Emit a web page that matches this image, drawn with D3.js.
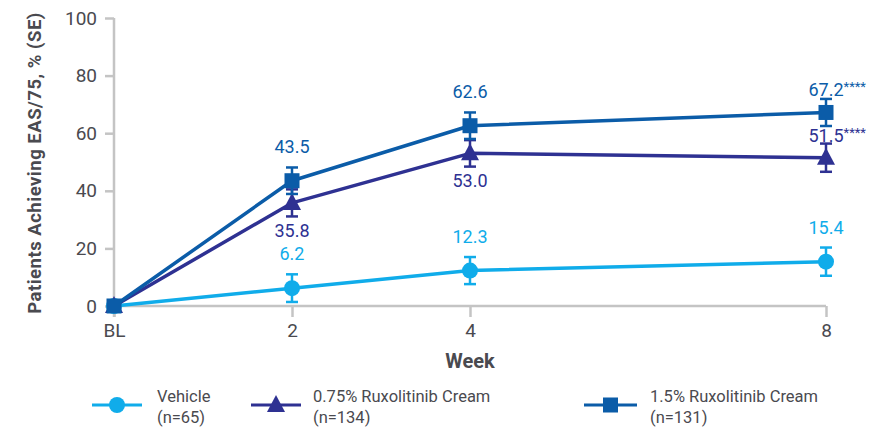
<!DOCTYPE html>
<html>
<head>
<meta charset="utf-8">
<script src="https://cdn.jsdelivr.net/npm/d3@7/dist/d3.min.js"></script>
<style>
  html, body { margin: 0; padding: 0; background: #fff; }
  svg { display: block; font-family: Roboto, "Noto Sans", sans-serif; }
</style>
</head>
<body>
<svg id="chart" width="896" height="428"></svg>
<script>
// Visits (weeks from baseline) and their axis labels
const weeks = [0, 2, 4, 8];
const weekLabels = ["BL", "2", "4", "8"];
const yTicks = [0, 20, 40, 60, 80, 100];

// Proportion achieving EASI-75 (%) and standard errors per arm
const vehicle = [0, 6.2, 12.3, 15.4];
const vehicleSE = [0, 4.8, 4.7, 4.9];
const rux075 = [0, 35.8, 53.0, 51.5];
const rux075SE = [0, 4.7, 4.6, 4.9];
const rux15 = [0, 43.5, 62.6, 67.2];
const rux15SE = [0, 4.6, 4.6, 4.7];

// Annotations: significance markers and label placement (above / below)
const rux075Stars = ["", "", "", "****"];
const rux15Stars = ["", "", "", "****"];
const vehiclePlace = ["", "above", "above", "above"];
const rux075Place = ["", "below", "below", "above"];
const rux15Place = ["", "above", "above", "above"];

const seriesNames = ["Vehicle", "0.75% Ruxolitinib Cream", "1.5% Ruxolitinib Cream"];
const seriesN = ["(n=65)", "(n=134)", "(n=131)"];

const series = [
  { name: seriesNames[0], n: seriesN[0], values: vehicle, se: vehicleSE, stars: ["", "", "", ""], place: vehiclePlace, color: "#10acea", symbol: "circle" },
  { name: seriesNames[1], n: seriesN[1], values: rux075, se: rux075SE, stars: rux075Stars, place: rux075Place, color: "#2e3192", symbol: "triangle" },
  { name: seriesNames[2], n: seriesN[2], values: rux15, se: rux15SE, stars: rux15Stars, place: rux15Place, color: "#0b5ca8", symbol: "square" }
];

const svg = d3.select("#chart");
const axisColor = "#c4c4c4";
const textColor = "#4a4a4f";

const x = d3.scaleLinear().domain([0, 8]).range([114, 826]);
const y = d3.scaleLinear().domain([0, 100]).range([306, 18]);

// Y axis
const yAxis = svg.append("g").attr("transform", `translate(${x(0)},0)`)
  .call(d3.axisLeft(y).tickValues(yTicks).tickSize(9).tickPadding(8));
yAxis.select(".domain").attr("stroke", axisColor).attr("stroke-width", 2.5)
  .attr("d", `M0,${y(100)}V${y(0) + 11}`);
yAxis.selectAll(".tick line").attr("stroke", axisColor).attr("stroke-width", 2.5);
yAxis.selectAll(".tick text").attr("fill", textColor).style("font-size", "19px").style("font-family", "Roboto");

// X axis
const xAxis = svg.append("g").attr("transform", `translate(0,${y(0)})`)
  .call(d3.axisBottom(x).tickValues(weeks).tickFormat((d, i) => weekLabels[i]).tickSize(11).tickPadding(7));
xAxis.select(".domain").attr("stroke", axisColor).attr("stroke-width", 2.5)
  .attr("d", `M${x(0)},0H${x(8)}`);
xAxis.selectAll(".tick line").attr("stroke", axisColor).attr("stroke-width", 2.5);
xAxis.selectAll(".tick text").attr("fill", textColor).style("font-size", "19px").style("font-family", "Roboto");

// Axis titles
svg.append("text")
  .attr("transform", `translate(41,${(y(0) + y(100)) / 2 + 1}) rotate(-90)`)
  .attr("text-anchor", "middle")
  .attr("fill", textColor)
  .style("font-size", "18.5px").style("font-weight", "bold").style("letter-spacing", "0.5px")
  .text("Patients Achieving EAS/75, % (SE)");

svg.append("text")
  .attr("x", (x(0) + x(8)) / 2).attr("y", 368)
  .attr("text-anchor", "middle")
  .attr("fill", textColor)
  .style("font-size", "20px").style("font-weight", "bold")
  .text("Week");

// Marker drawing helper
function drawMarker(g, symbol, cx, cy, color) {
  if (symbol === "circle") {
    g.append("circle").attr("cx", cx).attr("cy", cy).attr("r", 8).attr("fill", color);
  } else if (symbol === "square") {
    g.append("rect").attr("x", cx - 7.5).attr("y", cy - 7.5).attr("width", 15).attr("height", 15).attr("fill", color);
  } else {
    g.append("path").attr("d", `M${cx},${cy - 10}L${cx + 9},${cy + 7}L${cx - 9},${cy + 7}Z`).attr("fill", color);
  }
}

const line = d3.line().x((d, i) => x(weeks[i])).y(d => y(d));

series.forEach(s => {
  const g = svg.append("g");
  g.append("path").datum(s.values)
    .attr("d", line).attr("fill", "none")
    .attr("stroke", s.color).attr("stroke-width", 3.5).attr("stroke-linejoin", "round");

  s.values.forEach((v, i) => {
    const cx = x(weeks[i]);
    if (s.se[i] > 0) {
      const top = y(v + s.se[i]), bot = y(v - s.se[i]);
      g.append("line").attr("x1", cx).attr("x2", cx).attr("y1", top).attr("y2", bot)
        .attr("stroke", s.color).attr("stroke-width", 2.5);
      [top, bot].forEach(yy => g.append("line")
        .attr("x1", cx - 6).attr("x2", cx + 6).attr("y1", yy).attr("y2", yy)
        .attr("stroke", s.color).attr("stroke-width", 2.5));
    }
    drawMarker(g, s.symbol, cx, y(v), s.color);

    if (s.place[i]) {
      const offset = s.place[i] === "above" ? (s.stars[i] ? -16 : -28) : 34;
      const t = g.append("text")
        .attr("x", cx).attr("y", y(v) + offset)
        .attr("fill", s.color)
        .style("font-size", "18px");
      t.append("tspan").text(v.toFixed(1));
      if (s.stars[i]) {
        t.append("tspan").attr("dy", -5).style("font-size", "13px").text(s.stars[i]);
      }
      // centre the numeric part on the point
      const numW = t.select("tspan").node().getComputedTextLength();
      t.attr("x", cx - numW / 2);
    }
  });
});

// Legend
const legendItems = [
  { x0: 92, x1: 142, tx: 157 },
  { x0: 251, x1: 301, tx: 313 },
  { x0: 584, x1: 637, tx: 650 }
];
series.forEach((s, i) => {
  const L = legendItems[i];
  const g = svg.append("g");
  const ly = 405;
  g.append("line").attr("x1", L.x0).attr("x2", L.x1).attr("y1", ly).attr("y2", ly)
    .attr("stroke", s.color).attr("stroke-width", 3);
  drawMarker(g, s.symbol, (L.x0 + L.x1) / 2, ly, s.color);
  g.append("text").attr("x", L.tx).attr("y", 402).attr("fill", textColor)
    .style("font-size", "16.5px").text(s.name);
  g.append("text").attr("x", L.tx).attr("y", 423).attr("fill", textColor)
    .style("font-size", "16.5px").text(s.n);
});
</script>
</body>
</html>
